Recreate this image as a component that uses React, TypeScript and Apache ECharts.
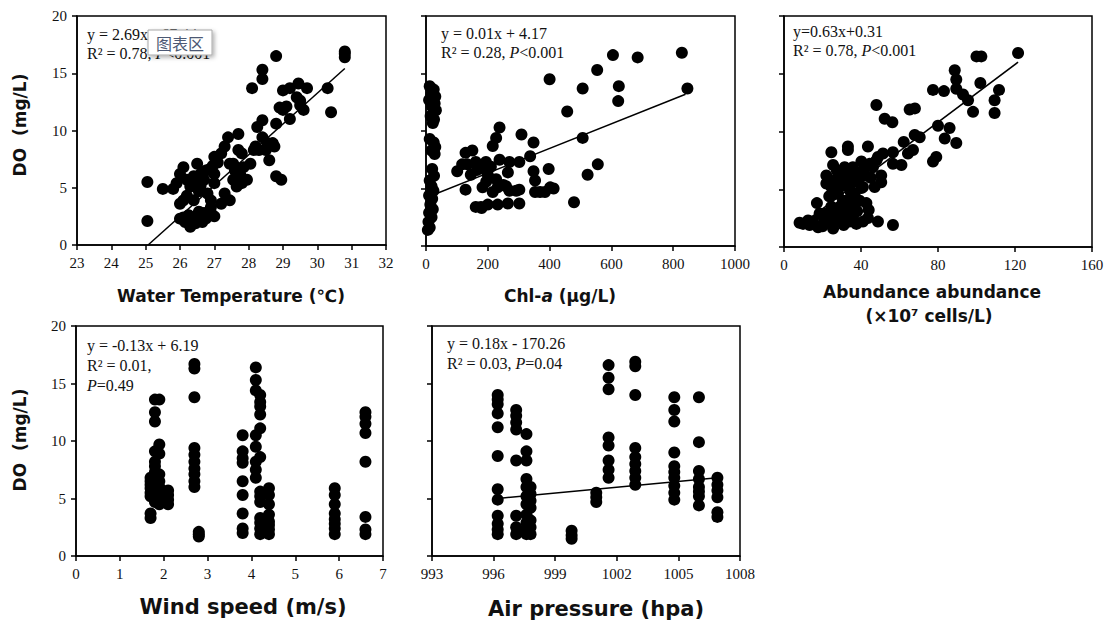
import React, { useEffect, useRef } from "react";
import * as echarts from "echarts";

// Panel data: [x, DO]
const tempData: number[][] = [
  [25.05, 5.5], [25.05, 2.1], [25.5, 4.9], [25.8, 4.9], [25.9, 5.4], [26.0, 6.2], [26.1, 6.8], [26.0, 3.6],
  [26.1, 3.9], [26.0, 2.3], [26.15, 2.0], [26.3, 1.6], [26.2, 5.7], [26.4, 6.0], [26.3, 5.1], [26.5, 7.1],
  [26.6, 6.2], [26.7, 5.7], [26.4, 3.9], [26.5, 2.2], [26.6, 2.5], [26.7, 2.8], [26.9, 2.8], [26.8, 4.5],
  [27.0, 6.2], [27.0, 7.7], [27.2, 8.0], [27.3, 8.6], [27.4, 9.4], [27.0, 5.4], [26.9, 3.9], [27.2, 3.6],
  [27.3, 4.5], [27.45, 3.9], [26.9, 3.3], [27.0, 2.5], [27.45, 7.1], [27.55, 7.1], [27.7, 9.7], [27.7, 8.3],
  [27.8, 8.0], [27.55, 5.7], [27.65, 5.1], [27.75, 6.2], [27.85, 6.8], [27.95, 5.7], [28.05, 7.1], [28.15, 8.3],
  [28.1, 13.7], [28.25, 10.3], [28.4, 10.9], [28.3, 8.3], [28.4, 9.4], [28.4, 14.5], [28.4, 15.3], [28.8, 16.5],
  [28.55, 8.9], [28.7, 8.9], [28.75, 8.6], [28.6, 7.4], [28.8, 10.6], [28.8, 6.0], [28.95, 5.7], [29.0, 13.5],
  [29.0, 11.8], [29.1, 12.1], [29.2, 11.0], [29.2, 13.7], [29.45, 14.1], [29.4, 12.9], [29.5, 12.6], [29.6, 11.8],
  [29.7, 13.7], [30.3, 13.7], [30.4, 11.6], [30.8, 16.7], [30.8, 16.4], [30.8, 16.9], [26.35, 5.4], [26.55, 4.7],
  [26.25, 2.6], [26.45, 1.9], [26.75, 2.3], [26.85, 6.6], [27.1, 7.2], [26.2, 4.3], [26.1, 2.4], [26.35, 2.1],
  [26.55, 2.9], [26.65, 2.0], [26.8, 2.6], [26.45, 5.9], [26.6, 5.2], [26.75, 6.5], [26.95, 6.9], [27.6, 6.5],
  [27.8, 5.4], [28.2, 8.6], [28.5, 8.3], [28.9, 12.0], [29.5, 12.2],
];
const tempLine: number[][] = [[25.07, 0], [30.8, 15.41]];

const chlData: number[][] = [
  [12, 13.9], [25, 13.6], [18, 13.2], [30, 13.0], [10, 12.7], [28, 12.4], [20, 12.1], [32, 11.8], [15, 11.3],
  [26, 11.0], [22, 10.7], [12, 9.3], [25, 9.0], [30, 8.6], [18, 8.3], [28, 8.0], [20, 6.7], [26, 6.1],
  [12, 5.7], [18, 5.2], [24, 4.8], [10, 4.4], [20, 4.1], [14, 3.6], [22, 3.2], [10, 2.9], [18, 2.5],
  [8, 2.1], [12, 1.6], [6, 1.4],
  [101, 6.5], [128, 8.1], [150, 8.3], [134, 7.1], [161, 7.3], [128, 4.9], [161, 3.4], [178, 3.4], [189, 6.7],
  [194, 7.3], [183, 5.1], [200, 3.6], [216, 8.7], [227, 5.8], [232, 5.1], [227, 9.4], [238, 10.3], [238, 7.5],
  [216, 4.7], [232, 3.6], [265, 6.4], [270, 7.3], [259, 5.2], [270, 4.8], [265, 3.7], [292, 4.8], [302, 7.3],
  [309, 9.7], [302, 3.7], [302, 4.9], [337, 7.8], [348, 9.0], [348, 6.5], [353, 5.7], [353, 4.7], [369, 4.7],
  [385, 4.7], [397, 6.7], [402, 5.1], [413, 5.0], [400, 14.5], [457, 11.7], [479, 3.8], [507, 9.4], [507, 13.7],
  [523, 6.2], [554, 15.3], [556, 7.1], [605, 16.6], [622, 12.6], [624, 13.9], [685, 16.4], [828, 16.8], [846, 13.7],
  [145, 6.2], [172, 7.0], [117, 7.1], [200, 6.2], [250, 5.3], [180, 3.3], [165, 6.6], [195, 5.6], [210, 6.9],
];
const chlLine: number[][] = [[0, 4.2], [840, 13.2]];

const abunData: number[][] = [
  [9.9, 2.0], [12.5, 2.3], [15, 2.2], [17.7, 1.7], [17.1, 3.8], [20.3, 2.0], [22.9, 2.2], [25.5, 1.6], [22, 2.9],
  [24.6, 3.5], [22, 5.5], [22, 6.2], [24.6, 8.2], [25.5, 7.1], [24.6, 5.2], [27.2, 5.8], [28, 4.6], [29, 3.5],
  [29, 2.3], [31.5, 6.9], [30.6, 5.3], [32.4, 4.0], [33.2, 8.7], [33.2, 8.4], [34, 5.2], [34, 2.9], [35.8, 3.8],
  [37.6, 6.1], [37.6, 2.0], [39.3, 6.4], [40.2, 5.1], [41, 6.6], [42.8, 3.8], [43.6, 8.7], [44.5, 7.2], [43.6, 2.5],
  [47.1, 5.2], [48, 12.3], [48.8, 2.2], [48.8, 7.8], [50.5, 6.2], [50.5, 5.6], [51.4, 8.1], [52.3, 11.1], [56.3, 10.8],
  [56.6, 1.9], [56.6, 8.2], [56.6, 7.2], [61, 7.1], [62.2, 9.1], [64.4, 8.1], [65.3, 11.9], [68, 12.0], [67, 8.4],
  [67.9, 9.7], [70.5, 9.5], [77.4, 13.6], [77.4, 7.4], [79.1, 7.8], [80, 10.5], [83.1, 13.5], [83.5, 9.4], [86, 10.3],
  [88.7, 15.3], [89.5, 14.5], [89.5, 13.7], [89.5, 9.0], [93, 13.2], [95.6, 12.7], [98.2, 11.7], [100, 16.5],
  [102.5, 16.5], [102, 14.2], [109.4, 12.7], [109.4, 11.6], [111.7, 13.6], [121.6, 16.8],
  [18.5, 2.9], [30.6, 4.0], [36.7, 4.6], [41, 5.2], [39.3, 4.0], [32.4, 6.4], [29, 6.1], [35.8, 6.9], [40.2, 7.4],
  [48, 7.5], [46.2, 6.9], [26.3, 4.6], [34, 2.2], [41, 2.2], [25.5, 2.3], [13.3, 1.9], [8.1, 2.1], [20, 1.8],
  [27, 2.6], [31, 1.9], [36, 2.4], [44, 3.2], [38, 3.1], [23.5, 4.4], [26, 3.0], [28.5, 5.4], [30, 2.8], [32, 3.4],
  [34.5, 4.8], [36, 5.8], [38.5, 5.6], [42, 6.2], [45, 6.0], [33, 6.0], [27.5, 6.6], [23, 5.9], [20.5, 2.6],
];
const abunLine: number[][] = [[12, 2.3], [121.6, 16.0]];

const windData: number[][] = [
  [1.7, 3.3], [1.7, 3.7], [1.7, 5.2], [1.7, 5.9], [1.7, 6.5], [1.7, 6.8], [1.7, 5.5], [1.7, 6.2],
  [1.8, 13.6], [1.8, 12.5], [1.8, 11.7], [1.8, 9.1], [1.8, 8.2], [1.8, 7.8], [1.8, 7.3], [1.8, 5.9], [1.8, 5.3], [1.8, 4.7],
  [1.8, 6.3], [1.8, 5.6], [1.8, 5.0],
  [1.9, 13.6], [1.9, 8.9], [1.9, 9.7], [1.9, 7.1], [1.9, 6.5], [1.9, 5.6], [1.9, 4.5], [1.9, 6.0], [1.9, 5.2],
  [2.1, 5.3], [2.1, 4.9], [2.1, 4.5], [2.1, 5.7],
  [2.7, 16.7], [2.7, 16.3], [2.7, 13.8], [2.7, 9.4], [2.7, 8.8], [2.7, 8.2], [2.7, 7.6], [2.7, 7.1], [2.7, 6.5], [2.7, 6.0],
  [2.8, 2.1], [2.8, 1.7], [2.8, 1.9],
  [3.8, 10.5], [3.8, 9.1], [3.8, 8.5], [3.8, 8.1], [3.8, 6.5], [3.8, 5.3], [3.8, 3.7], [3.8, 2.4], [3.8, 2.0],
  [4.1, 16.4], [4.1, 15.3], [4.1, 14.4], [4.1, 10.5], [4.1, 9.5], [4.1, 8.2], [4.1, 7.5], [4.1, 6.8],
  [4.2, 14.0], [4.2, 13.4], [4.2, 13.0], [4.2, 12.3], [4.2, 11.1], [4.2, 8.6], [4.2, 5.2], [4.2, 4.7], [4.2, 3.3], [4.2, 2.4], [4.2, 1.9],
  [4.2, 2.9], [4.2, 5.6],
  [4.4, 5.9], [4.4, 5.3], [4.4, 4.5], [4.4, 3.6], [4.4, 3.0], [4.4, 2.3], [4.4, 1.9], [4.4, 2.7],
  [5.9, 5.9], [5.9, 5.3], [5.9, 4.5], [5.9, 3.7], [5.9, 3.2], [5.9, 2.4], [5.9, 1.9], [5.9, 2.8],
  [6.6, 12.5], [6.6, 12.1], [6.6, 11.5], [6.6, 10.7], [6.6, 8.2], [6.6, 3.4], [6.6, 2.3], [6.6, 1.9],
];

const pressData: number[][] = [
  [996.2, 14.0], [996.2, 13.6], [996.2, 13.2], [996.2, 12.4], [996.2, 11.2], [996.2, 8.7], [996.2, 5.8], [996.2, 4.9],
  [996.2, 3.5], [996.2, 2.8], [996.2, 2.3], [996.2, 1.9],
  [997.1, 12.7], [997.1, 12.2], [997.1, 11.6], [997.1, 11.0], [997.1, 8.3], [997.1, 3.5], [997.1, 2.5], [997.1, 1.9],
  [997.6, 10.6], [997.6, 9.1], [997.6, 8.3], [997.6, 6.7], [997.6, 6.0], [997.6, 5.2], [997.6, 4.5], [997.6, 3.6],
  [997.6, 2.9], [997.6, 2.3], [997.6, 1.9],
  [997.8, 6.0], [997.8, 5.4], [997.8, 4.2], [997.8, 3.1], [997.8, 1.9], [997.8, 4.8], [997.8, 2.5],
  [999.8, 2.2], [999.8, 1.8], [999.8, 1.5],
  [1001.0, 5.5], [1001.0, 5.1], [1001.0, 4.7],
  [1001.6, 16.6], [1001.6, 15.5], [1001.6, 14.5], [1001.6, 10.3], [1001.6, 9.6], [1001.6, 8.3], [1001.6, 7.5], [1001.6, 6.8],
  [1002.9, 16.9], [1002.9, 16.5], [1002.9, 14.0], [1002.9, 9.4], [1002.9, 8.6], [1002.9, 8.0], [1002.9, 7.4], [1002.9, 6.8], [1002.9, 6.2],
  [1004.8, 13.8], [1004.8, 12.7], [1004.8, 11.7], [1004.8, 9.0], [1004.8, 7.8], [1004.8, 6.8], [1004.8, 6.1], [1004.8, 4.9],
  [1004.8, 5.5], [1004.8, 7.3],
  [1006.0, 13.8], [1006.0, 9.9], [1006.0, 7.4], [1006.0, 6.7], [1006.0, 6.0], [1006.0, 5.2], [1006.0, 4.4], [1006.0, 5.6],
  [1006.9, 6.8], [1006.9, 6.2], [1006.9, 5.7], [1006.9, 5.1], [1006.9, 3.8], [1006.9, 3.4],
];
const pressLine: number[][] = [[996.2, 5.0], [1006.9, 6.8]];

const doTicks = { min: 0, max: 20, interval: 5 };
const xRanges = [
  { min: 23, max: 32, interval: 1 },
  { min: 0, max: 1000, interval: 200 },
  { min: 0, max: 160, interval: 40 },
  { min: 0, max: 7, interval: 1 },
  { min: 993, max: 1008, interval: 3 },
];

const SERIF = '"Liberation Serif", "Times New Roman", serif';
const SANS = '"DejaVu Sans", Verdana, sans-serif';

export default function App() {
  const ref = useRef<HTMLDivElement>(null);
  useEffect(() => {
    if (!ref.current) return;
    const chart = echarts.init(ref.current, null, { renderer: "svg" });
    const grids = [
      { left: 77, top: 16, width: 309, height: 229 },
      { left: 426, top: 16, width: 309, height: 230 },
      { left: 784, top: 16, width: 308, height: 231 },
      { left: 76, top: 326, width: 307, height: 230 },
      { left: 432, top: 326, width: 308, height: 230 },
    ].map((g) => ({ ...g, show: true, borderColor: "#000", borderWidth: 1.5, backgroundColor: "transparent" }));

    const axisCommon = {
      axisLine: { show: true, onZero: false, lineStyle: { color: "#000", width: 1.5 } },
      axisTick: { show: true, inside: false, length: 5, lineStyle: { color: "#000", width: 1.5 } },
      splitLine: { show: false },
    };
    const plain = (v: number) => String(v);
    const xAxes = xRanges.map((r, i) => ({
      type: "value",
      gridIndex: i,
      ...r,
      ...axisCommon,
      axisLabel: { show: true, margin: 10, color: "#111", fontFamily: SERIF, fontSize: 15, formatter: plain },
    }));
    const yAxes = [0, 1, 2, 3, 4].map((i) => ({
      type: "value",
      gridIndex: i,
      ...doTicks,
      ...axisCommon,
      axisLabel: { show: i === 0 || i === 3, margin: 10, color: "#111", fontFamily: SERIF, fontSize: 15, formatter: plain },
    }));

    const datasets = [tempData, chlData, abunData, windData, pressData];
    const lines: (number[][] | null)[] = [tempLine, chlLine, abunLine, null, pressLine];
    const series: any[] = [];
    datasets.forEach((d, i) => {
      series.push({
        type: "scatter",
        xAxisIndex: i,
        yAxisIndex: i,
        data: d,
        symbol: "circle",
        symbolSize: 12,
        itemStyle: { color: "#000", opacity: 1 },
      });
      const l = lines[i];
      if (l) {
        series.push({
          type: "line",
          xAxisIndex: i,
          yAxisIndex: i,
          data: l,
          symbol: "none",
          lineStyle: { color: "#000", width: 1.5 },
          z: 3,
        });
      }
    });

    const eqStyle = (text: string, x: number, y: number) => ({
      type: "text",
      x,
      y,
      z: 10,
      style: {
        text,
        font: `16px ${SERIF}`,
        fill: "#111",
        textVerticalAlign: "middle",
        rich: { i: { fontStyle: "italic", fontFamily: SERIF, fontSize: 16, fill: "#111" } },
      },
    });
    const title = (text: string, x: number, y: number, size: number, rot = 0) => ({
      type: "text",
      x,
      y,
      rotation: rot,
      style: {
        text,
        font: `bold ${size}px ${SANS}`,
        fill: "#111",
        textAlign: "center",
        textVerticalAlign: "middle",
        rich: { i: { fontStyle: "italic", fontWeight: "bold", fontFamily: SANS, fontSize: size, fill: "#111" } },
      },
    });

    const graphic: any[] = [
      eqStyle("y = 2.69x - 67.44", 87, 34),
      eqStyle("R² = 0.78, {i|P}<0.001", 87, 53),
      eqStyle("y = 0.01x + 4.17", 441, 33),
      eqStyle("R² = 0.28, {i|P}<0.001", 441, 52),
      eqStyle("y=0.63x+0.31", 793, 31),
      eqStyle("R² = 0.78, {i|P}<0.001", 793, 50),
      eqStyle("y = -0.13x + 6.19", 87, 345),
      eqStyle("R² = 0.01,", 87, 365),
      eqStyle("{i|P}=0.49", 87, 385),
      eqStyle("y = 0.18x - 170.26", 447, 343),
      eqStyle("R² = 0.03, {i|P}=0.04", 447, 363),
      title("Water Temperature (℃)", 231, 296, 17),
      title("Chl-{i|a} (μg/L)", 560, 296, 17),
      title("Abundance abundance", 932, 292, 17),
      title("(×10⁷ cells/L)", 929, 316, 17),
      title("Wind speed (m/s)", 243, 607, 21),
      title("Air pressure (hpa)", 596, 609, 21),
      title("DO  (mg/L)", 20, 125, 17, Math.PI / 2),
      title("DO  (mg/L)", 20, 440, 17, Math.PI / 2),
      {
        type: "rect",
        z: 100,
        shape: { x: 148, y: 30, width: 64, height: 25 },
        style: { fill: "#ffffff", stroke: "#a8a8a8", lineWidth: 1, shadowBlur: 4, shadowColor: "rgba(0,0,0,0.3)", shadowOffsetX: 2, shadowOffsetY: 2 },
      },
      {
        type: "text",
        z: 101,
        x: 180,
        y: 43,
        style: {
          text: "图表区",
          font: '16px "Noto Sans CJK SC", sans-serif',
          fill: "#4c5873",
          textAlign: "center",
          textVerticalAlign: "middle",
        },
      },
    ];

    chart.setOption({
      animation: false,
      backgroundColor: "#fff",
      grid: grids,
      xAxis: xAxes,
      yAxis: yAxes,
      series,
      graphic,
    });
    return () => chart.dispose();
  }, []);
  return <div ref={ref} style={{ position: "absolute", left: 0, top: 0, width: 1111, height: 626 }} />;
}
